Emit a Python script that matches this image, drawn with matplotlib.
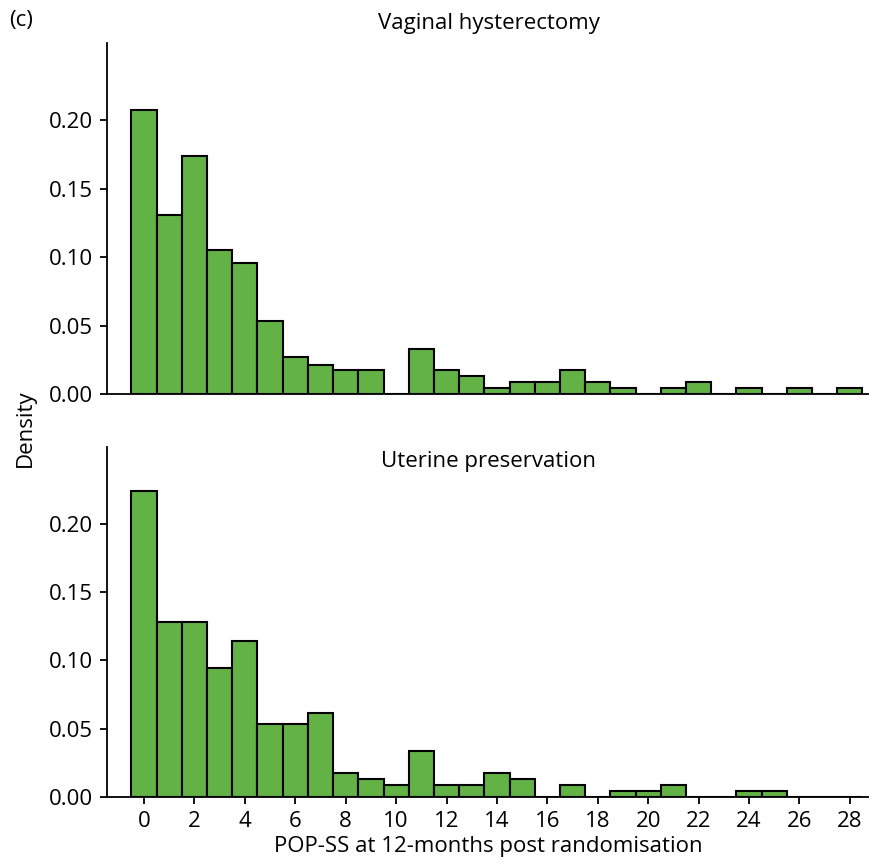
import numpy as np
import matplotlib
matplotlib.use('Agg')
import matplotlib.pyplot as plt

plt.rcParams['font.family'] = ['Open Sans', 'DejaVu Sans']

# POP-SS score bins (0..28)
scores = np.arange(0, 29)

# densities
vaginal_hysterectomy = [0.207, 0.131, 0.174, 0.105, 0.096, 0.053, 0.027, 0.0215, 0.0175, 0.0175,
                        0.0, 0.033, 0.0175, 0.0128, 0.0044, 0.0087, 0.0087, 0.0175, 0.0087, 0.0044,
                        0.0, 0.0044, 0.0087, 0.0, 0.0044, 0.0, 0.0044, 0.0, 0.0044]
uterine_preservation = [0.224, 0.1277, 0.1277, 0.0942, 0.1139, 0.0533, 0.0533, 0.0616, 0.0173, 0.0131,
                        0.0084, 0.0336, 0.0084, 0.0084, 0.0173, 0.0129, 0.0, 0.0085, 0.0, 0.0042,
                        0.0042, 0.0085, 0.0, 0.0, 0.0042, 0.0042, 0.0, 0.0, 0.0]

titles = ["Vaginal hysterectomy", "Uterine preservation"]
yticks = [0.0, 0.05, 0.10, 0.15, 0.20]
xticks = np.arange(0, 29, 2)
bar_color = '#63B246'
fs = 16

fig = plt.figure(figsize=(8.70, 8.66), dpi=100)
ax_top = fig.add_axes([0.123, 0.545, 0.877, 0.405])
ax_bot = fig.add_axes([0.123, 0.0797, 0.877, 0.404])

for ax, vals in [(ax_top, vaginal_hysterectomy), (ax_bot, uterine_preservation)]:
    ax.bar(scores, vals, width=1.0, align='center', color=bar_color,
           edgecolor='black', linewidth=1.5)
    ax.set_xlim(-1.47, 28.8)
    ax.set_ylim(0, 0.256)
    ax.set_yticks(yticks)
    ax.set_yticklabels([f"{v:.2f}" for v in yticks])
    for s in ['top', 'right']:
        ax.spines[s].set_visible(False)
    for s in ['left', 'bottom']:
        ax.spines[s].set_linewidth(1.3)
    ax.tick_params(axis='both', direction='out', length=5, width=1.3,
                   labelsize=fs, pad=5)

ax_top.set_xticks([])
ax_bot.set_xticks(xticks)
ax_bot.set_xlabel("POP-SS at 12-months post randomisation", fontsize=fs, labelpad=3)

ax_top.set_title(titles[0], fontsize=fs, pad=10)
ax_bot.text(0.5, 0.96, titles[1], transform=ax_bot.transAxes, ha='center',
            va='center', fontsize=fs)

fig.text(0.029, 0.506, "Density", rotation=90, ha='center', va='center', fontsize=fs)
fig.text(0.011, 0.976, "(c)", ha='left', va='center', fontsize=fs)

fig.savefig("out.png", dpi=100)
